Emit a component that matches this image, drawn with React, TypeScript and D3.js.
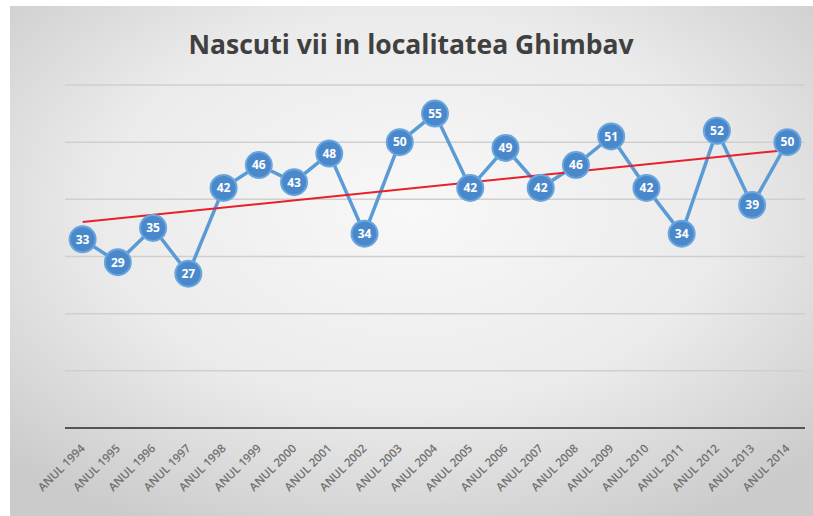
import React from "react";
import * as d3 from "d3";

const years = [
  "ANUL 1994", "ANUL 1995", "ANUL 1996", "ANUL 1997", "ANUL 1998", "ANUL 1999",
  "ANUL 2000", "ANUL 2001", "ANUL 2002", "ANUL 2003", "ANUL 2004", "ANUL 2005",
  "ANUL 2006", "ANUL 2007", "ANUL 2008", "ANUL 2009", "ANUL 2010", "ANUL 2011",
  "ANUL 2012", "ANUL 2013", "ANUL 2014",
];
const births = [33, 29, 35, 27, 42, 46, 43, 48, 34, 50, 55, 42, 49, 42, 46, 51, 42, 34, 52, 39, 50];
const yTicks = [0, 10, 20, 30, 40, 50, 60];
const title = "Nascuti vii in localitatea Ghimbav";

export default function App() {
  const width = 813,
    height = 516,
    left = 65,
    right = 805,
    top = 85,
    bottom = 428;

  const x = d3.scaleBand<string>().domain(years).range([left, right]);
  const y = d3.scaleLinear().domain([0, 60]).range([bottom, top]);
  const cx = (i: number) => (x(years[i]) as number) + x.bandwidth() / 2;

  const line = d3
    .line<number>()
    .x((_, i) => cx(i))
    .y((d) => y(d));

  // least squares trend line
  const n = births.length;
  const mx = d3.mean(births, (_, i) => i) as number;
  const my = d3.mean(births) as number;
  const slope =
    (d3.sum(births, (d, i) => (i - mx) * (d - my)) as number) /
    (d3.sum(births, (_, i) => (i - mx) * (i - mx)) as number);
  const trend = (i: number) => my + slope * (i - mx);

  return (
    <svg
      width={width}
      height={height}
      style={{ position: "absolute", left: 0, top: 0, background: "#fff" }}
    >
      <defs>
        <radialGradient id="bg" cx="50%" cy="40%" r="70%">
          <stop offset="0%" stopColor="#f8f8f8" />
          <stop offset="55%" stopColor="#ebebeb" />
          <stop offset="100%" stopColor="#cbcbcb" />
        </radialGradient>
      </defs>
      <rect x={10} y={6} width={width - 10} height={height - 6} fill="url(#bg)" />
      <text
        x={411}
        y={54}
        textAnchor="middle"
        fontFamily="Open Sans, sans-serif"
        fontWeight={700}
        fontSize={26.5}
        fill="#404040"
      >
        {title}
      </text>
      {yTicks.slice(1).map((t) => (
        <line key={t} x1={left} x2={right} y1={y(t)} y2={y(t)} stroke="#cfcfcf" strokeWidth={1.5} />
      ))}
      <line x1={left} x2={right} y1={bottom} y2={bottom} stroke="#555" strokeWidth={2} />
      {years.map((yr, i) => (
        <text
          key={yr}
          transform={`translate(${cx(i) + 3},${bottom + 21}) rotate(-45)`}
          textAnchor="end"
          fontFamily="Open Sans, sans-serif"
          fontWeight={600}
          fontSize={11.5}
          fill="#707070"
        >
          {yr}
        </text>
      ))}
      <path d={line(births) ?? ""} fill="none" stroke="#5b9bd5" strokeWidth={3.5} />
      <line
        x1={cx(0)}
        x2={cx(n - 1)}
        y1={y(trend(0))}
        y2={y(trend(n - 1))}
        stroke="#e8202a"
        strokeWidth={2}
      />
      {births.map((v, i) => (
        <g key={i} transform={`translate(${cx(i)},${y(v)})`}>
          <circle r={13} fill="#4a88cc" stroke="#6aa5de" strokeWidth={2} />
          <text
            textAnchor="middle"
            dy="0.36em"
            fontFamily="Open Sans, sans-serif"
            fontWeight={700}
            fontSize={12}
            fill="#fff"
          >
            {v}
          </text>
        </g>
      ))}
    </svg>
  );
}
